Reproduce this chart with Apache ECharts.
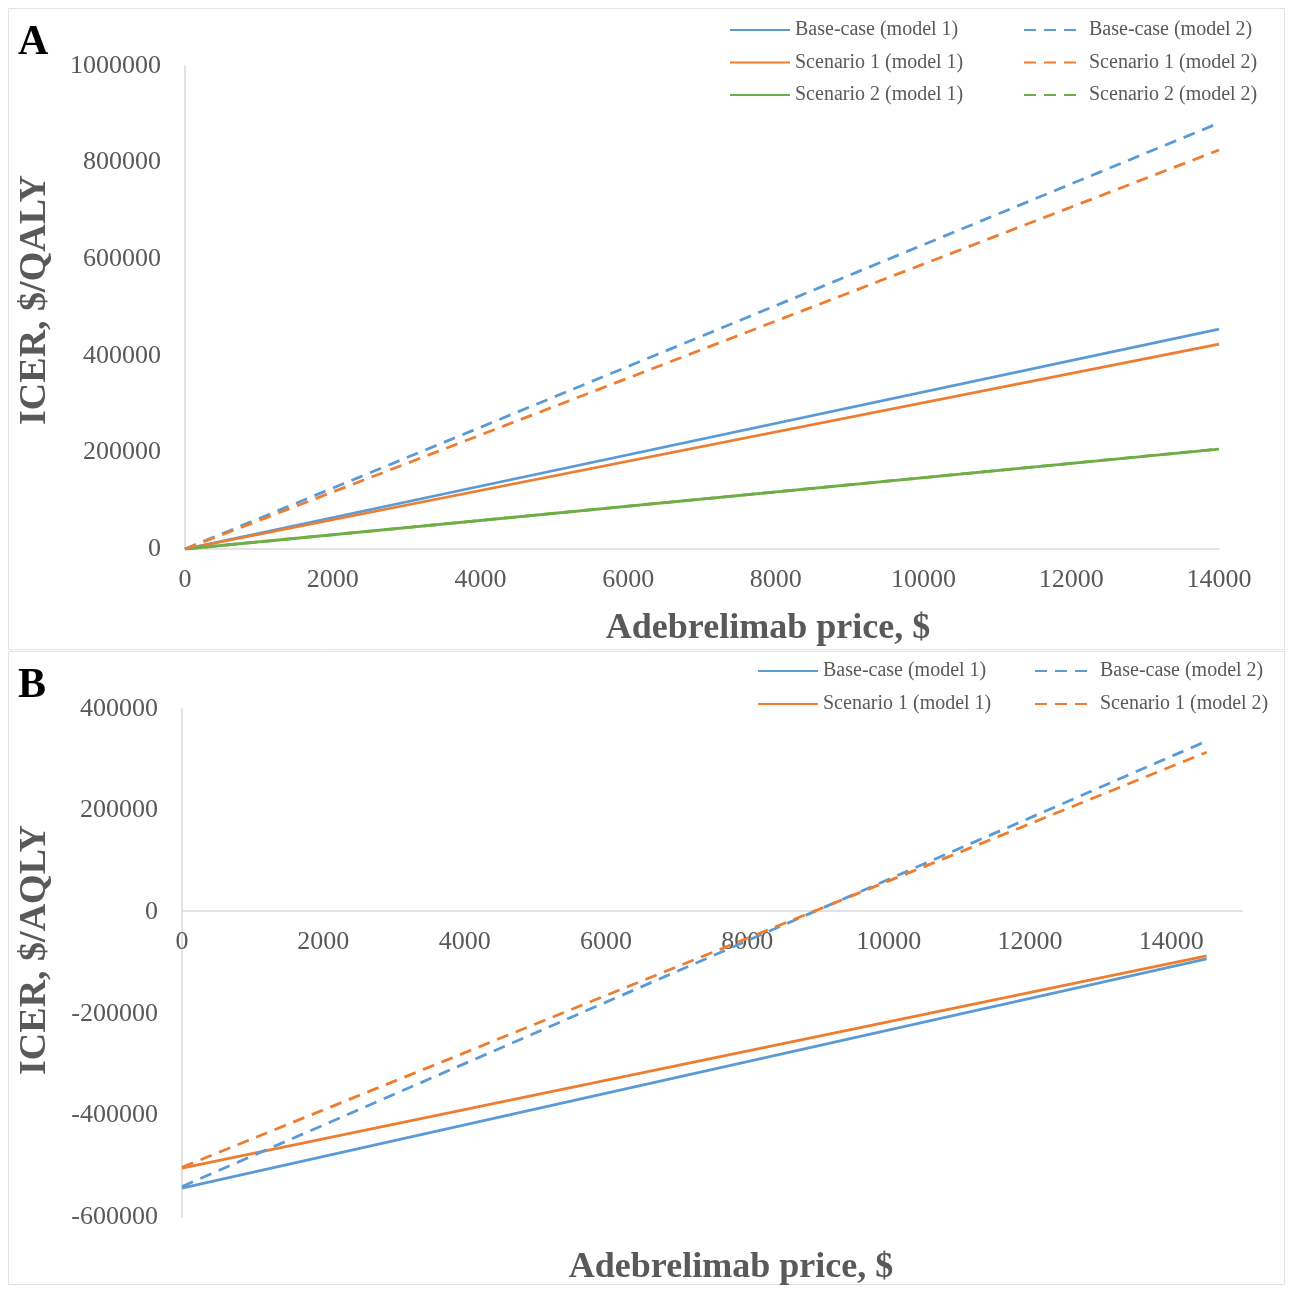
<!DOCTYPE html>
<html>
<head>
<meta charset="utf-8">
<script src="https://cdn.jsdelivr.net/npm/echarts@6/dist/echarts.min.js"></script>
<style>
html,body{margin:0;padding:0;background:#fff;}
#c{width:1295px;height:1289px;}
</style>
</head>
<body>
<div id="c"></div>
<script>
// ---- Panel A data (Adebrelimab price, $ -> ICER, $/QALY) ----
const priceA = [0, 14000];
const baseM1A = [0, 455000];
const scen1M1A = [0, 424000];
const scen2M1A = [0, 207000];
const baseM2A = [0, 882000];
const scen1M2A = [0, 826000];
const scen2M2A = [0, 207000];

// ---- Panel B data (Adebrelimab price, $ -> ICER, $/AQLY) ----
const priceB = [0, 14500];
const baseM1B = [-543000, -92000];
const scen1M1B = [-504000, -86000];
const baseM2B = [-540000, 337000];
const scen1M2B = [-502000, 315000];

const namesA = ['Base-case (model 1)', 'Scenario 1 (model 1)', 'Scenario 2 (model 1)',
                'Base-case (model 2)', 'Scenario 1 (model 2)', 'Scenario 2 (model 2)'];
const namesB = ['Base-case (model 1)', 'Scenario 1 (model 1)', 'Base-case (model 2)', 'Scenario 1 (model 2)'];

const BLUE = '#5b9bd5', ORANGE = '#ed7d31', GREEN = '#70ad47';
const SERIF = '"Liberation Serif", "Times New Roman", serif';
const GRAY = '#595959';
const AXC = '#d9d9d9';

function pairs(xs, ys) { return xs.map((x, i) => [x, ys[i]]); }
const plain = v => String(v);

function line(name, xs, ys, color, dashed, gi, z) {
  return {
    type: 'line', name: name, xAxisIndex: gi, yAxisIndex: gi,
    data: pairs(xs, ys), symbol: 'none', z: z,
    lineStyle: { color: color, width: 2.8, type: dashed ? [12, 8] : 'solid' },
    itemStyle: { color: color }
  };
}

const legendText = { color: GRAY, fontSize: 20, fontFamily: SERIF };
const tickText = { color: GRAY, fontSize: 26, fontFamily: SERIF, formatter: plain };
function legend(left, top, gap, data) {
  return { orient: 'vertical', left: left, top: top, itemWidth: 60, itemHeight: 14, itemGap: gap,
           textStyle: legendText, itemStyle: { opacity: 0 }, data: data };
}

const chart = echarts.init(document.getElementById('c'), null, { renderer: 'canvas' });
chart.setOption({
  animation: false,
  backgroundColor: '#fff',
  grid: [
    { left: 185, right: 76, top: 66, bottom: 740, containLabel: false },
    { left: 182, right: 53, top: 709, bottom: 72, containLabel: false }
  ],
  xAxis: [
    {
      type: 'value', gridIndex: 0, min: 0, max: 14000, interval: 2000,
      axisLine: { show: true, lineStyle: { color: AXC, width: 1.5 } },
      axisTick: { show: false }, splitLine: { show: false },
      axisLabel: Object.assign({ margin: 18 }, tickText)
    },
    {
      type: 'value', gridIndex: 1, min: 0, max: 15000, interval: 2000,
      position: 'bottom', offset: -306,
      axisLine: { show: true, onZero: false, lineStyle: { color: AXC, width: 1.5 } },
      axisTick: { show: false }, splitLine: { show: false },
      axisLabel: Object.assign({ margin: 18, showMaxLabel: false }, tickText)
    }
  ],
  yAxis: [
    {
      type: 'value', gridIndex: 0, min: 0, max: 1000000, interval: 200000,
      axisLine: { show: true, lineStyle: { color: AXC, width: 1.5 } },
      axisTick: { show: false }, splitLine: { show: false },
      axisLabel: Object.assign({ margin: 24 }, tickText)
    },
    {
      type: 'value', gridIndex: 1, min: -600000, max: 400000, interval: 200000,
      axisLine: { show: true, onZero: false, lineStyle: { color: AXC, width: 1.5 } },
      axisTick: { show: false }, splitLine: { show: false },
      axisLabel: Object.assign({ margin: 24 }, tickText)
    }
  ],
  legend: [
    legend(724, 15, 12.5, namesA.slice(0, 3)),
    legend(1018, 15, 12.5, namesA.slice(3, 6)),
    legend(752, 656, 13, namesB.slice(0, 2)),
    legend(1029, 656, 13, namesB.slice(2, 4))
  ],
  series: [
    line('Scenario 2 (model 2)', priceA, scen2M2A, GREEN, true, 0, 1),
    line('Base-case (model 1)', priceA, baseM1A, BLUE, false, 0, 2),
    line('Scenario 1 (model 1)', priceA, scen1M1A, ORANGE, false, 0, 2),
    line('Scenario 2 (model 1)', priceA, scen2M1A, GREEN, false, 0, 2),
    line('Base-case (model 2)', priceA, baseM2A, BLUE, true, 0, 2),
    line('Scenario 1 (model 2)', priceA, scen1M2A, ORANGE, true, 0, 2),
    line('Base-case (model 1)', priceB, baseM1B, BLUE, false, 1, 2),
    line('Scenario 1 (model 1)', priceB, scen1M1B, ORANGE, false, 1, 2),
    line('Base-case (model 2)', priceB, baseM2B, BLUE, true, 1, 2),
    line('Scenario 1 (model 2)', priceB, scen1M2B, ORANGE, true, 1, 2)
  ],
  graphic: [
    { type: 'rect', shape: { x: 8.5, y: 8.5, width: 1276, height: 641 }, style: { fill: 'none', stroke: '#e3e3e3', lineWidth: 1 }, z: -1 },
    { type: 'rect', shape: { x: 8.5, y: 651.5, width: 1276, height: 633 }, style: { fill: 'none', stroke: '#e3e3e3', lineWidth: 1 }, z: -1 },
    { type: 'text', left: 18, top: 22, style: { text: 'A', font: 'bold 42px ' + SERIF, fill: '#000' } },
    { type: 'text', left: 18, top: 665, style: { text: 'B', font: 'bold 42px ' + SERIF, fill: '#000' } },
    { type: 'text', x: 35, y: 300, rotation: Math.PI / 2, style: { text: 'ICER, $/QALY', font: 'bold 38px ' + SERIF, fill: GRAY, align: 'center', verticalAlign: 'middle' } },
    { type: 'text', x: 35, y: 950, rotation: Math.PI / 2, style: { text: 'ICER, $/AQLY', font: 'bold 38px ' + SERIF, fill: GRAY, align: 'center', verticalAlign: 'middle' } },
    { type: 'text', x: 768, y: 629, style: { text: 'Adebrelimab price, $', font: 'bold 36px ' + SERIF, fill: GRAY, align: 'center', verticalAlign: 'middle' } },
    { type: 'text', x: 731, y: 1268, style: { text: 'Adebrelimab price, $', font: 'bold 36px ' + SERIF, fill: GRAY, align: 'center', verticalAlign: 'middle' } }
  ]
});
</script>
</body>
</html>
